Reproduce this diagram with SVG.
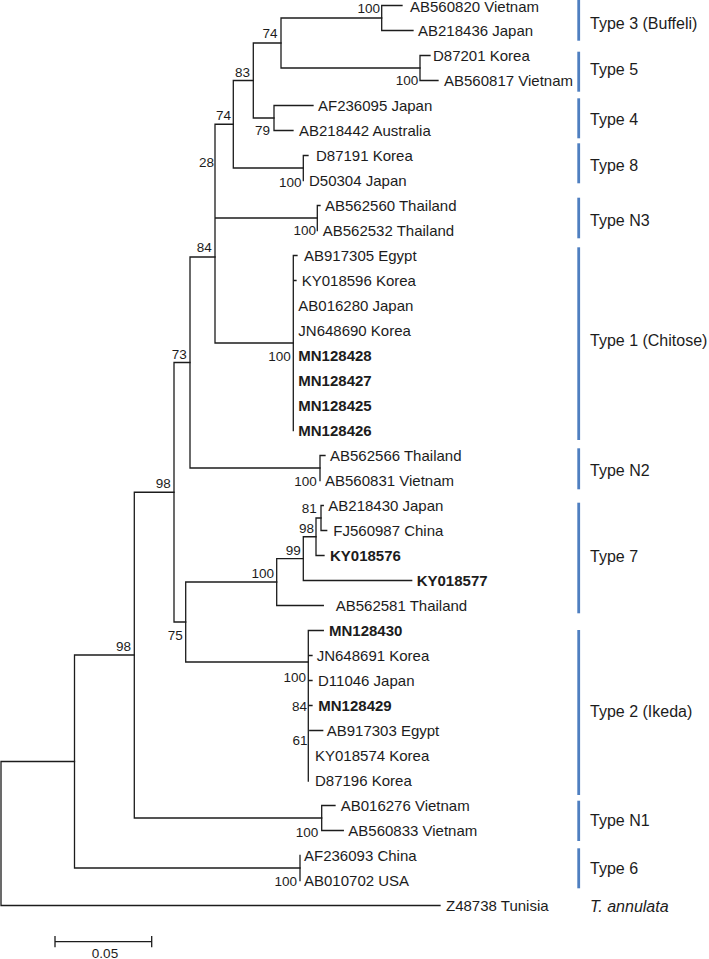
<svg xmlns="http://www.w3.org/2000/svg" width="709" height="959" viewBox="0 0 709 959">
<style>
.br{fill:none;stroke:#1c1c1c;stroke-width:1.3;stroke-linecap:square}
.tip{font-family:"Liberation Sans",Arial,sans-serif;font-size:15px;fill:#1c1c1c}
.b{font-weight:bold}
.bs{font-family:"Liberation Sans",Arial,sans-serif;font-size:13.5px;fill:#1c1c1c;text-anchor:end}
.bar{fill:#4f7fc0}
.cl{font-family:"Liberation Sans",Arial,sans-serif;font-size:16px;fill:#1c1c1c}
</style>
<rect width="709" height="959" fill="#ffffff"/>
<g id="connectors" class="br">
<path d="M1,761.5 V905.5 M1,905.5 H440 M1,761.5 H74.5"/>
<path d="M74.5,655 V868 M74.5,655 H134.3 M74.5,868 H300"/>
<path d="M300,855.5 V880.5"/>
<path d="M134.3,492.25 V818 M134.3,492.25 H174 M134.3,818 H321.7"/>
<path d="M321.7,805.5 V830.5 M321.7,805.5 H335 M321.7,830.5 H343.3"/>
<path d="M174,362.5 V622 M174,362.5 H190 M174,622 H185.7"/>
<path d="M185.7,582 V662 M185.7,582 H276.7 M185.7,662 H308.3"/>
<path d="M308.3,630.5 V781 M308.3,630.5 H323.3 M308.3,655.5 H312 M308.3,680.5 H312 M308.3,705.5 H312 M309.8,730.5 H322.7"/>
<path d="M276.7,558.6 V605.5 M276.7,558.6 H303.3 M276.7,605.5 H323.3"/>
<path d="M303.3,536.75 V580.5 M303.3,536.75 H316 M303.3,580.5 H411.7"/>
<path d="M316,518 V555.5 M316,518 H321 M316,555.5 H324"/>
<path d="M321,505.5 V530.5 M321,505.5 H323.3 M321,530.5 H326.7"/>
<path d="M190,257 V468 M190,257 H215 M190,468 H320"/>
<path d="M320,455.5 V480.5 M320,455.5 H325"/>
<path d="M215,124.25 V343 M215,218 H317.3 M215,343 H293.3 M215,124.25 H233.3"/>
<path d="M293.3,255.5 V430.5 M293.3,255.5 H297 M293.3,280.5 H296"/>
<path d="M317.3,205.5 V230.5 M317.3,205.5 H320"/>
<path d="M233.3,80.5 V168 M233.3,80.5 H253.3 M233.3,168 H303.3"/>
<path d="M303.3,155.5 V180.5 M303.3,155.5 H308"/>
<path d="M253.3,43 V118 M253.3,43 H281 M253.3,118 H274"/>
<path d="M274,105.5 V130.5 M274,105.5 H313 M274,130.5 H293"/>
<path d="M281,18 V68 M281,18 H381.7 M281,68 H420"/>
<path d="M381.7,5.5 V30.5 M381.7,5.5 H402 M381.7,30.5 H413"/>
<path d="M420,55.5 V80.5 M420,55.5 H430 M420,80.5 H438"/>
</g>
<g id="leaves">
<g id="leaf-AB560820"><text class="tip" x="410" y="12">AB560820 Vietnam</text></g>
<g id="leaf-AB218436"><text class="tip" x="418" y="35.8">AB218436 Japan</text></g>
<g id="leaf-D87201"><text class="tip" x="433" y="60.8">D87201 Korea</text></g>
<g id="leaf-AB560817"><text class="tip" x="444" y="85.8">AB560817 Vietnam</text></g>
<g id="leaf-AF236095"><text class="tip" x="318" y="110.8">AF236095 Japan</text></g>
<g id="leaf-AB218442"><text class="tip" x="299" y="135.8">AB218442 Australia</text></g>
<g id="leaf-D87191"><text class="tip" x="316" y="160.8">D87191 Korea</text></g>
<g id="leaf-D50304"><text class="tip" x="309" y="185.8">D50304 Japan</text></g>
<g id="leaf-AB562560"><text class="tip" x="325" y="210.8">AB562560 Thailand</text></g>
<g id="leaf-AB562532"><text class="tip" x="322.7" y="235.8">AB562532 Thailand</text></g>
<g id="leaf-AB917305"><text class="tip" x="304" y="260.8">AB917305 Egypt</text></g>
<g id="leaf-KY018596"><text class="tip" x="301.7" y="285.8">KY018596 Korea</text></g>
<g id="leaf-AB016280"><text class="tip" x="298.3" y="310.8">AB016280 Japan</text></g>
<g id="leaf-JN648690"><text class="tip" x="298.3" y="335.8">JN648690 Korea</text></g>
<g id="leaf-MN128428"><text class="tip b" x="298.3" y="360.8">MN128428</text></g>
<g id="leaf-MN128427"><text class="tip b" x="298.3" y="385.8">MN128427</text></g>
<g id="leaf-MN128425"><text class="tip b" x="298.3" y="410.8">MN128425</text></g>
<g id="leaf-MN128426"><text class="tip b" x="298.3" y="435.8">MN128426</text></g>
<g id="leaf-AB562566"><text class="tip" x="330" y="460.8">AB562566 Thailand</text></g>
<g id="leaf-AB560831"><text class="tip" x="325" y="485.8">AB560831 Vietnam</text></g>
<g id="leaf-AB218430"><text class="tip" x="328.3" y="510.8">AB218430 Japan</text></g>
<g id="leaf-FJ560987"><text class="tip" x="333.3" y="535.8">FJ560987 China</text></g>
<g id="leaf-KY018576"><text class="tip b" x="330" y="560.8">KY018576</text></g>
<g id="leaf-KY018577"><text class="tip b" x="416.7" y="585.8">KY018577</text></g>
<g id="leaf-AB562581"><text class="tip" x="335.7" y="610.8">AB562581 Thailand</text></g>
<g id="leaf-MN128430"><text class="tip b" x="329" y="635.8">MN128430</text></g>
<g id="leaf-JN648691"><text class="tip" x="316.7" y="660.8">JN648691 Korea</text></g>
<g id="leaf-D11046"><text class="tip" x="318" y="685.8">D11046 Japan</text></g>
<g id="leaf-MN128429"><text class="tip b" x="318.3" y="710.8">MN128429</text></g>
<g id="leaf-AB917303"><text class="tip" x="326.7" y="735.8">AB917303 Egypt</text></g>
<g id="leaf-KY018574"><text class="tip" x="315" y="760.8">KY018574 Korea</text></g>
<g id="leaf-D87196"><text class="tip" x="315" y="785.8">D87196 Korea</text></g>
<g id="leaf-AB016276"><text class="tip" x="340.7" y="810.8">AB016276 Vietnam</text></g>
<g id="leaf-AB560833"><text class="tip" x="348.3" y="835.8">AB560833 Vietnam</text></g>
<g id="leaf-AF236093"><text class="tip" x="304" y="860.8">AF236093 China</text></g>
<g id="leaf-AB010702"><text class="tip" x="304" y="885.8">AB010702 USA</text></g>
<g id="leaf-Z48738"><text class="tip" x="446" y="910.8">Z48738 Tunisia</text></g>
</g>
<g id="bootstrap">
<text class="bs" x="380" y="13">100</text>
<text class="bs" x="277.5" y="38">74</text>
<text class="bs" x="418.3" y="85">100</text>
<text class="bs" x="250" y="76.5">83</text>
<text class="bs" x="270" y="135">79</text>
<text class="bs" x="231" y="120">74</text>
<text class="bs" x="214" y="166.5">28</text>
<text class="bs" x="301.5" y="186.5">100</text>
<text class="bs" x="316" y="235">100</text>
<text class="bs" x="211.7" y="252">84</text>
<text class="bs" x="290.7" y="361">100</text>
<text class="bs" x="186.7" y="359">73</text>
<text class="bs" x="316.7" y="485.5">100</text>
<text class="bs" x="170.7" y="488">98</text>
<text class="bs" x="316.7" y="513">81</text>
<text class="bs" x="314" y="533">98</text>
<text class="bs" x="300.7" y="555">99</text>
<text class="bs" x="274" y="578">100</text>
<text class="bs" x="182.7" y="640">75</text>
<text class="bs" x="131" y="651">98</text>
<text class="bs" x="306" y="682">100</text>
<text class="bs" x="307" y="710.5">84</text>
<text class="bs" x="307.5" y="745">61</text>
<text class="bs" x="318.3" y="836.5">100</text>
<text class="bs" x="297" y="885.5">100</text>
</g>
<g id="clades">
<g id="clade-type3"><rect class="bar" x="577.3" y="0" width="2.8" height="40.7"/><text class="cl" x="590" y="28.5">Type 3 (Buffeli)</text></g>
<g id="clade-type5"><rect class="bar" x="577.3" y="51.7" width="2.8" height="40"/><text class="cl" x="590" y="75">Type 5</text></g>
<g id="clade-type4"><rect class="bar" x="577.3" y="98.3" width="2.8" height="40"/><text class="cl" x="590" y="125">Type 4</text></g>
<g id="clade-type8"><rect class="bar" x="577.3" y="143.3" width="2.8" height="40"/><text class="cl" x="590" y="170.7">Type 8</text></g>
<g id="clade-typeN3"><rect class="bar" x="577.3" y="197.7" width="2.8" height="40.6"/><text class="cl" x="590" y="225.7">Type N3</text></g>
<g id="clade-type1"><rect class="bar" x="577.3" y="247.3" width="2.8" height="192.7"/><text class="cl" x="590" y="345.7">Type 1 (Chitose)</text></g>
<g id="clade-typeN2"><rect class="bar" x="577.3" y="448.3" width="2.8" height="41"/><text class="cl" x="590" y="475.7">Type N2</text></g>
<g id="clade-type7"><rect class="bar" x="577.3" y="502.7" width="2.8" height="110.6"/><text class="cl" x="590" y="561.7">Type 7</text></g>
<g id="clade-type2"><rect class="bar" x="577.3" y="630" width="2.8" height="165"/><text class="cl" x="590" y="717.4">Type 2 (Ikeda)</text></g>
<g id="clade-typeN1"><rect class="bar" x="577.3" y="800.7" width="2.8" height="40.3"/><text class="cl" x="590" y="825.7">Type N1</text></g>
<g id="clade-type6"><rect class="bar" x="577.3" y="848.3" width="2.8" height="40"/><text class="cl" x="590" y="874">Type 6</text></g>
<g id="outgroup"><text class="cl" x="590" y="912.4" font-style="italic">T. annulata</text></g>
</g>
<g id="scale-bar">
<path class="br" d="M55,941.7 H151.7 M55,936.7 V946.7 M151.7,936.7 V946.7"/>
<text class="bs" x="105" y="957.5" style="text-anchor:middle">0.05</text>
</g>
</svg>
